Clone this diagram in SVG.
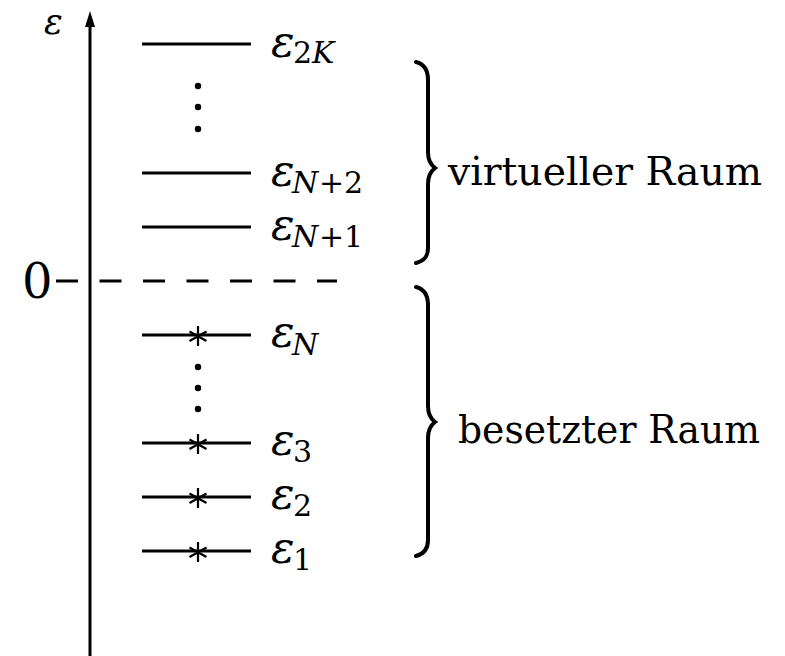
<svg xmlns="http://www.w3.org/2000/svg" width="785" height="656" viewBox="0 0 785 656">
<style>
.ln{stroke:#000;stroke-width:3;fill:none}
.ast{stroke:#000;stroke-width:2.2;fill:none}
.br{stroke:#000;stroke-width:4;fill:none;stroke-linecap:round}
text{font-family:'DejaVu Serif','Noto Serif',serif;fill:#000}
.m{font-style:italic;font-size:44px}
.s{font-size:30px}
.si{font-style:italic}
.sn{font-style:normal}
.lbl{font-size:39px}
</style>
<defs>
<g id="star"><path class="ast" d="M0,-10 V10 M-8.5,-4.5 L8.5,5 M-8.5,5 L8.5,-4.5"/></g>
</defs>
<rect width="785" height="656" fill="#fff"/>
<g id="axis">
<line class="ln" x1="90" y1="24" x2="90" y2="656"/>
<polygon points="90,11 85,27 95,27" fill="#000"/>
<text class="m" x="44" y="34" style="font-size:35px">ε</text>
<text x="22" y="298" font-size="48">0</text>
</g>
<g id="connectors">
<line class="ln" x1="56" y1="281" x2="337" y2="281" stroke-dasharray="22,21.5"/>
</g>
<g id="virtual-levels">
<line class="ln" x1="142" y1="44" x2="251" y2="44"/>
<line class="ln" x1="142" y1="173" x2="251" y2="173"/>
<line class="ln" x1="142" y1="227" x2="251" y2="227"/>
<circle cx="198" cy="86" r="3.2"/>
<circle cx="198" cy="107" r="3.2"/>
<circle cx="198" cy="129" r="3.2"/>
<text class="m" x="271" y="57">ε<tspan class="s sn" x="293" y="63">2</tspan><tspan class="s si">K</tspan></text>
<text class="m" x="271" y="186">ε<tspan class="s si" x="292" y="193">N</tspan><tspan class="s sn" x="319">+</tspan><tspan class="s sn" x="344">2</tspan></text>
<text class="m" x="271" y="240">ε<tspan class="s si" x="292" y="247">N</tspan><tspan class="s sn" x="319">+</tspan><tspan class="s sn" x="344">1</tspan></text>
</g>
<g id="occupied-levels">
<line class="ln" x1="142" y1="335" x2="251" y2="335"/>
<line class="ln" x1="142" y1="443" x2="251" y2="443"/>
<line class="ln" x1="142" y1="497" x2="251" y2="497"/>
<line class="ln" x1="142" y1="551" x2="251" y2="551"/>
<use href="#star" x="198" y="336"/>
<use href="#star" x="198" y="444"/>
<use href="#star" x="198" y="498"/>
<use href="#star" x="198" y="552"/>
<circle cx="198" cy="367" r="3.2"/>
<circle cx="198" cy="388" r="3.2"/>
<circle cx="198" cy="409" r="3.2"/>
<text class="m" x="271" y="347">ε<tspan class="s si" x="292" y="355">N</tspan></text>
<text class="m" x="271" y="455">ε<tspan class="s sn" x="293" y="462">3</tspan></text>
<text class="m" x="271" y="509">ε<tspan class="s sn" x="293" y="516">2</tspan></text>
<text class="m" x="271" y="563">ε<tspan class="s sn" x="293" y="570">1</tspan></text>
</g>
<g id="virtueller-raum">
<path class="br" d="M416,62 C424,64 428,70 428,80 L428,152 C428,160 431,165 435,168 C431,171 428,176 428,184 L428,248 C428,257 424,261 416,263"/>
<text class="lbl" x="448" y="185" textLength="314" lengthAdjust="spacingAndGlyphs">virtueller Raum</text>
</g>
<g id="besetzter-raum">
<path class="br" d="M416,287 C424,289 428,295 428,305 L428,406 C428,414 431,419 435,422 C431,425 428,430 428,438 L428,540 C428,549 424,554 416,556"/>
<text class="lbl" x="458" y="443" textLength="302" lengthAdjust="spacingAndGlyphs">besetzter Raum</text>
</g>
</svg>
